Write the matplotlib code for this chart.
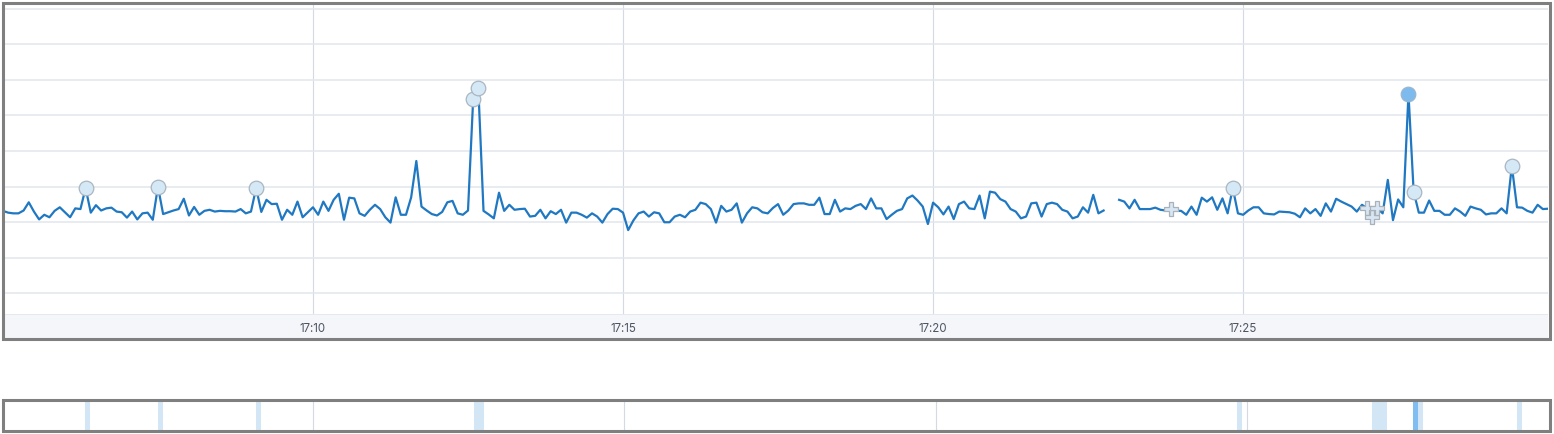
import numpy as np
import pandas as pd
import matplotlib
matplotlib.use("Agg")
import matplotlib.pyplot as plt
from matplotlib.patches import Rectangle

plt.rcParams['font.family'] = ['Inter', 'DejaVu Sans']

# metric values, one bucket every 5 s starting 17:05:00 (nan = missing bucket)
day = "2019-05-14"
values = [
    23.2, 22.7, 22.5, 22.5, 23.3, 25.6, 23.0, 20.8, 22.1, 21.4,
    23.2, 24.2, 22.8, 21.4, 23.9, 23.7, 29.6, 22.7, 24.8, 23.3,
    23.9, 24.1, 23.0, 22.8, 21.3, 23.0, 20.8, 22.5, 22.7, 20.7,
    30.0, 22.3, 22.8, 23.3, 23.7, 26.6, 21.9, 24.3, 22.1, 23.2,
    23.5, 23.0, 23.2, 23.1, 23.1, 23.0, 23.7, 22.5, 23.0, 29.6,
    22.9, 26.3, 25.1, 25.2, 20.7, 23.5, 22.1, 25.8, 21.4, 22.8,
    24.2, 22.1, 25.8, 23.2, 26.3, 28.0, 20.7, 26.9, 26.7, 22.5,
    21.8, 23.5, 24.9, 23.7, 21.4, 19.9, 27.0, 22.1, 22.1, 27.0,
    37.2, 24.4, 23.3, 22.3, 21.9, 22.9, 25.6, 26.0, 22.5, 22.1,
    23.3, 54.6, 57.6, 23.2, 22.2, 21.1, 28.3, 23.2, 24.9, 23.5,
    23.7, 23.8, 21.6, 21.8, 23.5, 21.1, 23.1, 22.3, 23.5, 19.9,
    22.7, 22.7, 22.1, 21.3, 22.5, 21.6, 19.9, 22.3, 23.8, 23.7,
    22.7, 17.8, 20.5, 22.5, 23.0, 21.6, 22.8, 22.5, 20.0, 20.0,
    21.6, 22.1, 21.4, 23.0, 23.5, 25.5, 25.1, 23.7, 19.9, 24.6,
    23.0, 23.5, 25.3, 19.9, 22.5, 24.2, 23.9, 22.8, 22.5, 24.0,
    25.1, 22.1, 23.3, 25.1, 25.3, 25.3, 24.9, 24.9, 26.9, 22.3,
    22.3, 26.3, 23.0, 23.9, 23.7, 24.6, 25.1, 23.7, 26.7, 23.9,
    23.9, 20.9, 22.1, 23.2, 23.7, 26.7, 27.5, 26.1, 24.4, 19.5,
    25.5, 24.2, 22.2, 24.4, 20.9, 25.1, 25.8, 23.9, 23.7, 27.5,
    21.1, 28.6, 28.3, 26.5, 25.8, 23.7, 23.0, 21.1, 21.6, 25.3,
    25.5, 21.6, 25.1, 25.5, 25.1, 23.5, 23.0, 21.1, 21.6, 24.2,
    22.7, 27.7, 22.5, 23.3, np.nan, np.nan, 26.3, 25.8, 23.9, 26.3,
    23.7, 23.7, 23.7, 24.1, 23.5, 23.3, 23.7, 23.2, 23.2, 22.1,
    24.4, 22.1, 26.9, 25.8, 27.0, 23.5, 26.7, 22.5, 29.6, 22.5,
    22.1, 23.3, 24.2, 24.2, 22.5, 22.3, 22.2, 23.0, 22.9, 22.8,
    22.4, 21.4, 23.9, 22.5, 23.7, 21.8, 25.3, 23.0, 26.6, 25.8,
    25.1, 24.4, 23.0, 24.9, 23.9, 21.6, 23.9, 22.5, 31.9, 20.6,
    26.4, 24.2, 56.1, 28.6, 22.7, 22.7, 26.1, 23.2, 23.2, 22.1,
    22.1, 23.9, 23.0, 21.8, 24.4, 23.9, 23.5, 22.2, 22.5, 22.5,
    23.9, 22.5, 35.8, 24.2, 24.1, 23.2, 22.7, 24.9, 23.7, 23.8,
]

# anomaly markers
minor_times = ["17:06:20", "17:07:30", "17:09:05", "17:12:35", "17:12:40",
               "17:24:50", "17:27:45", "17:29:20"]
critical_times = ["17:27:40"]
multi_bucket_times = ["17:23:50", "17:27:00", "17:27:05", "17:27:10"]

# swimlane (context strip) buckets
lane_minor = ["17:06:20", "17:07:30", "17:09:05", "17:12:35", "17:12:40",
              "17:24:50", "17:27:00", "17:27:05", "17:27:10", "17:27:45", "17:29:20"]
lane_critical = ["17:27:40"]

tick_times = ["17:10", "17:15", "17:20", "17:25"]

LINE = "#1f78c1"
GRID = "#e2e6ec"
VGRID = "#d3dae6"
BORDER = "#7f7f7f"


def ts(t):
    return pd.Timestamp(day + " " + t)


times = pd.date_range(ts("17:05:00"), periods=len(values), freq="5s")
series = pd.Series(values, index=times)
ticks = [ts(t) for t in tick_times]

W, H = 1554, 434
fig = plt.figure(figsize=(W / 100, H / 100), dpi=100)


def box(x0, y0, x1, y1):
    # pixel box (top-left origin) -> figure fraction rect
    return [x0 / W, (H - y1) / H, (x1 - x0) / W, (y1 - y0) / H]


# ---- main chart
ax = fig.add_axes(box(5, 5, 1548, 314))
ax.plot(series.index, series.values, color=LINE, lw=1.6, zorder=3)

mt = [ts(t) for t in minor_times]
ax.plot(mt, series[mt].values, "o", ms=10.5, mfc="#d5e8f6", mec="#aab6c2",
        mew=0.9, zorder=4)
ct = [ts(t) for t in critical_times]
ax.plot(ct, series[ct].values, "o", ms=10.5, mfc="#7dbbef", mec="#9ab6cf",
        mew=0.9, zorder=4)
bt = [ts(t) for t in multi_bucket_times]
ax.plot(bt, series[bt].values, "P", ms=9.5, mfc="#d7e6f2", mec="#a9b1b9",
        mew=0.9, zorder=4)

ax.set_xlim(ts("17:05:02"), ts("17:29:55"))
ax.set_ylim(-5.76, 81.0)
ax.set_yticks(range(0, 81, 10))
ax.set_xticks(ticks)
ax.grid(axis="y", color=GRID, lw=1.1)
ax.grid(axis="x", color=VGRID, lw=0.8)
ax.tick_params(length=0, labelbottom=False, labelleft=False)
for sp in ax.spines.values():
    sp.set_visible(False)

# x-axis band with time labels
band = fig.add_axes(box(5, 314, 1548, 337.5), sharex=ax)
band.set_facecolor("#f4f6f9")
band.set_yticks([])
band.tick_params(length=0, labelbottom=False)
for sp in band.spines.values():
    sp.set_visible(False)
band.axhline(1, color=GRID, lw=1.2)
for t, lab in zip(ticks, tick_times):
    band.text(t, 0.36, lab, transform=band.get_xaxis_transform(),
              ha="center", va="center", fontsize=8.3, color="#4f5563")

fig.add_artist(Rectangle((3.3 / W, (H - 339) / H), (1550 - 3.3) / W, (339 - 3.3) / H,
                         transform=fig.transFigure, fill=False,
                         ec=BORDER, lw=2.2))

# ---- context swimlane strip
lane = fig.add_axes(box(5, 401.5, 1548, 429.5))
for t in lane_minor:
    lane.axvspan(ts(t), ts(t) + pd.Timedelta(seconds=5), color="#d2e6f6", lw=0)
for t in lane_critical:
    lane.axvspan(ts(t), ts(t) + pd.Timedelta(seconds=5), color="#80bdf0", lw=0)
for t in ticks:
    lane.axvline(t, color=VGRID, lw=0.8)
lane.set_xlim(ts("17:05:03"), ts("17:29:50"))
lane.set_xticks([])
lane.set_yticks([])
for sp in lane.spines.values():
    sp.set_visible(False)

fig.add_artist(Rectangle((3.3 / W, (H - 431) / H), (1550 - 3.3) / W, (431 - 399.5) / H,
                         transform=fig.transFigure, fill=False,
                         ec=BORDER, lw=2.2))

fig.savefig("out.png", dpi=100)
